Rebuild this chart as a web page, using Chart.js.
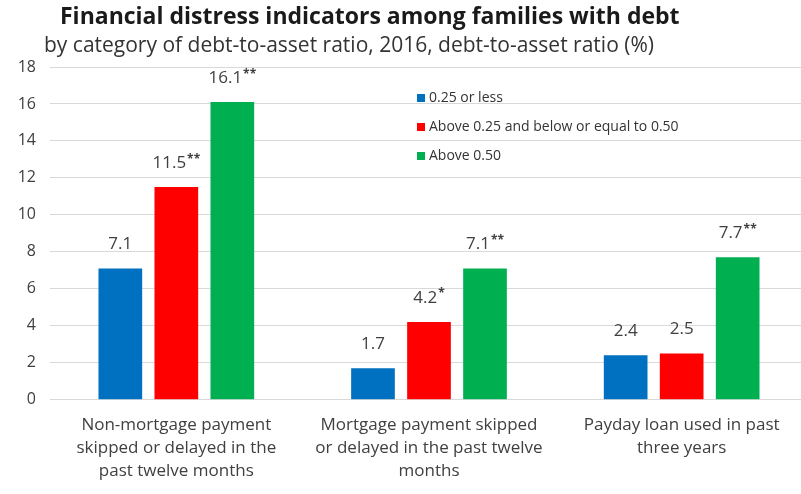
<!DOCTYPE html>
<html>
<head>
<meta charset="utf-8">
<script src="https://cdn.jsdelivr.net/npm/chart.js@4/dist/chart.umd.min.js"></script>
<style>
	html, body { margin: 0; padding: 0; background: #fff; overflow: hidden; }
	#wrap { width: 808px; height: 494px; position: relative; }
</style>
</head>
<body>
<div id="wrap"><canvas id="chart"></canvas></div>
<script>
// data
const categories = [
	["Non-mortgage payment", "skipped or delayed in the", "past twelve months"],
	["Mortgage payment skipped", "or delayed in the past twelve", "months"],
	["Payday loan used in past", "three years"]
];
const seriesNames = ["0.25 or less", "Above 0.25 and below or equal to 0.50", "Above 0.50"];
const lowValues = [7.1, 1.7, 2.4];
const midValues = [11.5, 4.2, 2.5];
const highValues = [16.1, 7.1, 7.7];
const lowStars = ["", "", ""];
const midStars = ["**", "*", ""];
const highStars = ["**", "**", "**"];
const colors = ["#0070C0", "#FF0000", "#00B050"];

const FONT = "'Open Sans', 'Noto Sans', sans-serif";

// title + subtitle
const headerPlugin = {
	id: "header",
	afterDraw(chart) {
		const ctx = chart.ctx;
		ctx.save();
		ctx.textBaseline = "middle";
		ctx.textAlign = "left";
		ctx.fillStyle = "#1a1a1a";
		ctx.font = "bold 23px " + FONT;
		ctx.fillText("Financial distress indicators among families with debt", 60, 17);
		ctx.fillStyle = "#333";
		ctx.font = "21px " + FONT;
		ctx.fillText("by category of debt-to-asset ratio, 2016, debt-to-asset ratio (%)", 44, 46);
		ctx.restore();
	}
};

// value labels above bars
const valueLabels = {
	id: "valueLabels",
	afterDatasetsDraw(chart) {
		const ctx = chart.ctx;
		ctx.save();
		ctx.textBaseline = "middle";
		ctx.fillStyle = "#404040";
		chart.data.datasets.forEach((ds, i) => {
			chart.getDatasetMeta(i).data.forEach((bar, j) => {
				const txt = ds.data[j].toFixed(1);
				const star = ds.stars[j];
				ctx.font = "17px " + FONT;
				const w1 = ctx.measureText(txt).width;
				ctx.font = "bold 12px " + FONT;
				const w2 = star ? ctx.measureText(star).width + 1 : 0;
				const x0 = bar.x - (w1 + w2) / 2;
				const y = bar.y - 24;
				ctx.textAlign = "left";
				ctx.font = "17px " + FONT;
				ctx.fillText(txt, x0, y);
				if (star) {
					ctx.font = "bold 12px " + FONT;
					ctx.fillText(star, x0 + w1 + 1, y - 4);
				}
			});
		});
		ctx.restore();
	}
};

// legend inside plot area
const innerLegend = {
	id: "innerLegend",
	afterDraw(chart) {
		const ctx = chart.ctx;
		const x = chart.chartArea.left + 367;
		let y = 98;
		ctx.save();
		ctx.font = "14px " + FONT;
		ctx.textBaseline = "middle";
		ctx.textAlign = "left";
		chart.data.datasets.forEach((ds) => {
			ctx.fillStyle = ds.backgroundColor;
			ctx.fillRect(x, y - 4, 8, 8);
			ctx.fillStyle = "#333";
			ctx.fillText(ds.label, x + 12, y);
			y += 29;
		});
		ctx.restore();
	}
};

new Chart(document.getElementById("chart"), {
	type: "bar",
	data: {
		labels: categories,
		datasets: [
			{ label: seriesNames[0], data: lowValues, stars: lowStars, backgroundColor: colors[0] },
			{ label: seriesNames[1], data: midValues, stars: midStars, backgroundColor: colors[1] },
			{ label: seriesNames[2], data: highValues, stars: highStars, backgroundColor: colors[2] }
		]
	},
	options: {
		responsive: true,
		maintainAspectRatio: false,
		animation: false,
		categoryPercentage: 0.665,
		barPercentage: 0.78,
		layout: {
			padding: { top: 67, right: 0, bottom: 5, left: 0 }
		},
		plugins: {
			legend: { display: false },
			tooltip: { enabled: false }
		},
		scales: {
			y: {
				min: 0,
				max: 18,
				ticks: {
					stepSize: 2,
					color: "#404040",
					padding: 14,
					font: { size: 16, family: FONT }
				},
				grid: { color: "#d9d9d9", drawTicks: false },
				border: { display: false },
				afterFit(scale) {
					scale.width = 50;
				}
			},
			x: {
				ticks: {
					color: "#404040",
					padding: 6,
					maxRotation: 0,
					autoSkip: false,
					font: { size: 17, family: FONT, lineHeight: 1.36 }
				},
				grid: { display: false },
				border: { display: false }
			}
		}
	},
	plugins: [headerPlugin, valueLabels, innerLegend]
});
</script>
</body>
</html>
